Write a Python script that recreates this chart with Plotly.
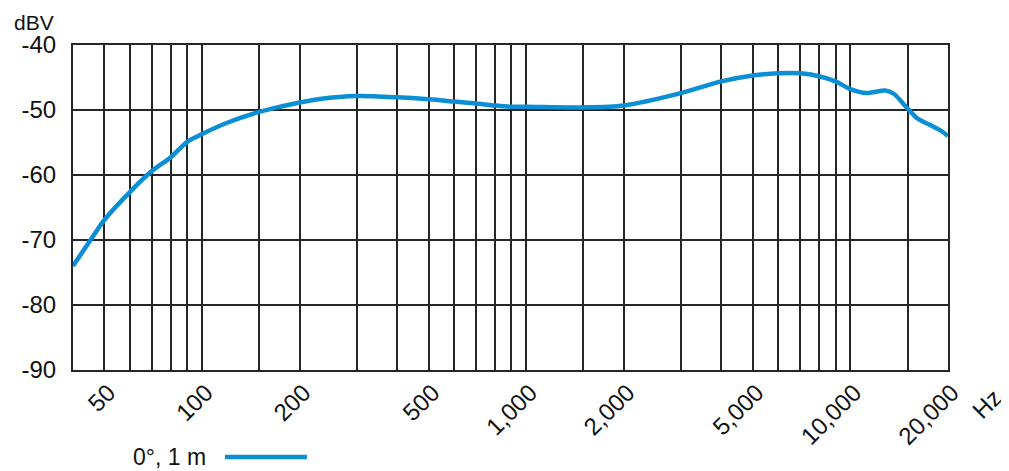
import plotly.graph_objects as go

# frequency response
freq_hz = [40, 46, 50, 60, 70, 80, 90, 100, 119, 150, 174, 200, 231, 300, 400,
           500, 600, 700, 800, 900, 1000, 1500, 2000, 3000, 4000, 5000, 6000,
           7000, 8000, 9000, 10000, 11200, 12800, 13600, 15000, 16100, 17600,
           18900, 20000]
level_dbv = [-74.0, -69.5, -66.9, -62.6, -59.4, -57.3, -54.9, -53.7, -52.0,
             -50.3, -49.5, -48.85, -48.3, -47.85, -48.05, -48.35, -48.7, -49.0,
             -49.3, -49.5, -49.5, -49.6, -49.3, -47.4, -45.6, -44.7, -44.35,
             -44.35, -44.8, -45.6, -46.8, -47.4, -47.0, -47.5, -49.75, -51.3,
             -52.3, -53.1, -54.0]

grid_hz = [40, 50, 60, 70, 80, 90, 100, 150, 200, 300, 400, 500, 600, 700, 800,
           900, 1000, 1500, 2000, 3000, 4000, 5000, 6000, 7000, 8000, 9000,
           10000, 15000, 20000]
labeled_hz = {50: "50", 100: "100", 200: "200", 500: "500", 1000: "1,000",
              2000: "2,000", 5000: "5,000", 10000: "10,000", 20000: "20,000"}
y_ticks = [-90, -80, -70, -60, -50, -40]
y_labels = ["-90", "-80", "-70", "-60", "-50", "-40"]

series_name = "0°, 1 m"
blue = "#0a8fd5"
ink = "#111111"
grid = "#262626"
font = "Liberation Sans, Arial, sans-serif"

fig = go.Figure()
fig.add_trace(go.Scatter(
    x=freq_hz, y=level_dbv, mode="lines", name=series_name,
    line=dict(color=blue, width=4.5, shape="spline", smoothing=0.8),
    showlegend=False,
))

fig.update_xaxes(
    type="log", range=[1.60206, 4.30103],
    tickvals=grid_hz, ticktext=[labeled_hz.get(v, "") for v in grid_hz],
    tickangle=-45, ticks="", showgrid=True, gridcolor=grid, gridwidth=1.6,
    showline=True, linecolor=grid, linewidth=2, mirror=True,
    tickfont=dict(family=font, size=24, color=ink), zeroline=False,
    ticklabelshift=4, ticklabelstandoff=-3,
)
fig.update_yaxes(
    range=[-90, -40], tickvals=y_ticks, ticktext=y_labels, ticks="",
    showgrid=True, gridcolor=grid, gridwidth=1.6,
    showline=True, linecolor=grid, linewidth=2, mirror=True,
    tickfont=dict(family=font, size=24, color=ink), zeroline=False,
    ticklabelstandoff=10,
)

fig.add_annotation(text="dBV", xref="paper", yref="paper", x=-65 / 875, y=1.0,
                   xshift=4, yshift=23, xanchor="left", yanchor="middle",
                   showarrow=False, font=dict(family=font, size=21, color=ink))
fig.add_annotation(text="Hz", xref="paper", yref="paper", x=1.0, y=0,
                   xshift=38, yshift=-34, textangle=-45, showarrow=False,
                   xanchor="center", yanchor="middle",
                   font=dict(family=font, size=24, color=ink))

# legend drawn by hand: text first, then the line sample
fig.add_annotation(text=series_name, xref="paper", yref="paper", x=0.1543, y=0,
                   yshift=-87, xanchor="right", yanchor="middle", showarrow=False,
                   font=dict(family=font, size=23, color=ink))
fig.add_shape(type="line", xref="paper", yref="paper", x0=0.1737, x1=0.2674,
              y0=-0.2677, y1=-0.2677, line=dict(color=blue, width=4.5))

fig.update_layout(
    width=1001, height=463,
    margin=dict(l=65, r=61, t=37, b=101),
    paper_bgcolor="white", plot_bgcolor="white",
)

fig.write_html("out.html")
